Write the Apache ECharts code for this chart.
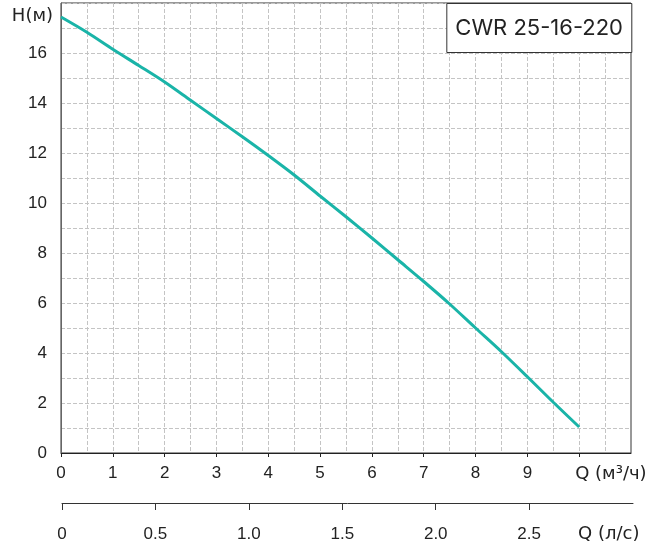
<!DOCTYPE html>
<html>
<head>
<meta charset="utf-8">
<script src="https://cdn.jsdelivr.net/npm/echarts@6/dist/echarts.min.js"></script>
<style>
html,body{margin:0;padding:0;background:#fff;}
#c{width:662px;height:548px;}
</style>
</head>
<body>
<div id="c"></div>
<script>
const flowM3h = [0,0.5,1,1.5,2,2.5,3,3.5,4,4.5,5,5.5,6,6.5,7,7.5,8,8.5,9,9.5,10];
const headM   = [17.44,16.83,16.15,15.50,14.84,14.11,13.38,12.65,11.90,11.12,10.28,9.45,8.60,7.73,6.86,5.96,5.00,4.05,3.05,2.03,1.04];
const qTickValues = [0,1,2,3,4,5,6,7,8,9,10];
const qLabelValues = [0,1,2,3,4,5,6,7,8,9];
const lsTickValues = [0,0.5,1.0,1.5,2.0,2.5];
const hLabelValues = [0,2,4,6,8,10,12,14,16];
const titleText = 'CWR 25-16-220';
const qUnitText = 'Q (м³/ч)';
const lsUnitText = 'Q (л/с)';
const hUnitText = 'H(м)';
const M3H_PER_LS = 3.6;
const Q_MAX = 11;
const H_MAX = 18;

const FONT = '"Liberation Sans", Arial, sans-serif';
const UFONT = '"DejaVu Sans", sans-serif';
const TXT = '#222';
const GRIDC = '#c4c4c4';

const chart = echarts.init(document.getElementById('c'), null, {renderer:'canvas'});
const option = {
  animation: false,
  backgroundColor: '#fff',
  title: {
    text: titleText,
    right: 30, top: 3,
    padding: [14, 9, 14, 9],
    borderColor: '#333', borderWidth: 1,
    backgroundColor: '#fff',
    textStyle: {fontFamily: 'Inter, "Liberation Sans", sans-serif', fontSize: 22, fontWeight: 'normal', color: TXT}
  },
  grid: [
    {left: 61, right: 31, top: 3, height: 450, show: true, borderColor: '#333', borderWidth: 1, backgroundColor: 'transparent'},
    {left: 62, right: 29, top: 502, height: 1}
  ],
  xAxis: [
    {
      type: 'value', gridIndex: 0, min: 0, max: Q_MAX, interval: 1,
      axisLine: {show: true, lineStyle: {color: '#222', width: 1}},
      axisTick: {show: true, length: 4, inside: false, customValues: qTickValues, lineStyle: {color: '#222'}},
      axisLabel: {customValues: qLabelValues, margin: 12, fontFamily: FONT, fontSize: 17, color: TXT},
      splitLine: {show: true, lineStyle: {color: GRIDC, type: [4, 2], width: 1}},
      minorTick: {show: false, splitNumber: 2},
      minorSplitLine: {show: true, lineStyle: {color: GRIDC, type: [4, 2], width: 1}}
    },
    {
      type: 'value', gridIndex: 1, min: 0, max: Q_MAX / M3H_PER_LS, interval: 0.5,
      axisLine: {show: true, lineStyle: {color: '#333', width: 1}},
      axisTick: {show: true, length: 7, inside: false, customValues: lsTickValues, lineStyle: {color: '#333'}},
      axisLabel: {customValues: lsTickValues, margin: 23, fontFamily: FONT, fontSize: 17, color: TXT,
        formatter: v => v === 0 ? '0' : v.toFixed(1)},
      splitLine: {show: false}
    }
  ],
  yAxis: [
    {
      type: 'value', gridIndex: 0, min: 0, max: H_MAX, interval: 1,
      axisLine: {show: true, lineStyle: {color: '#666', width: 1}},
      axisTick: {show: false},
      axisLabel: {customValues: hLabelValues, margin: 14, fontFamily: FONT, fontSize: 17, color: TXT},
      splitLine: {show: true, lineStyle: {color: GRIDC, type: [4, 2], width: 1}}
    },
    {type: 'value', gridIndex: 1, show: false, min: 0, max: 1}
  ],
  series: [{
    type: 'line', xAxisIndex: 0, yAxisIndex: 0,
    data: flowM3h.map((q, i) => [q, headM[i]]),
    smooth: 0.3, showSymbol: false, symbol: 'none',
    lineStyle: {color: '#1ab4a8', width: 3},
    z: 3
  }]
};
chart.setOption(option);

const pQ = chart.convertToPixel({xAxisIndex: 0, yAxisIndex: 0}, [10, 0]);
const pLs = chart.convertToPixel({xAxisIndex: 1}, 10 / M3H_PER_LS);
const pH = chart.convertToPixel({xAxisIndex: 0, yAxisIndex: 0}, [0, 17.5]);
const ls1 = chart.convertToPixel({xAxisIndex: 1, yAxisIndex: 1}, [0, 0]);
const unitStyle = {fontFamily: UFONT, fontSize: 18, fill: TXT};
chart.setOption({
  graphic: [
    {type: 'text', x: pQ[0] - 4, y: pQ[1] + 21,
      style: Object.assign({text: qUnitText, textVerticalAlign: 'middle', textAlign: 'left'}, unitStyle)},
    {type: 'text', x: pLs - 3, y: ls1[1] + 31,
      style: Object.assign({text: lsUnitText, textVerticalAlign: 'middle', textAlign: 'left'}, unitStyle)},
    {type: 'text', x: pH[0] - 8, y: pH[1] + 1,
      style: Object.assign({text: hUnitText, textVerticalAlign: 'middle', textAlign: 'right'}, unitStyle)}
  ]
});
</script>
</body>
</html>
